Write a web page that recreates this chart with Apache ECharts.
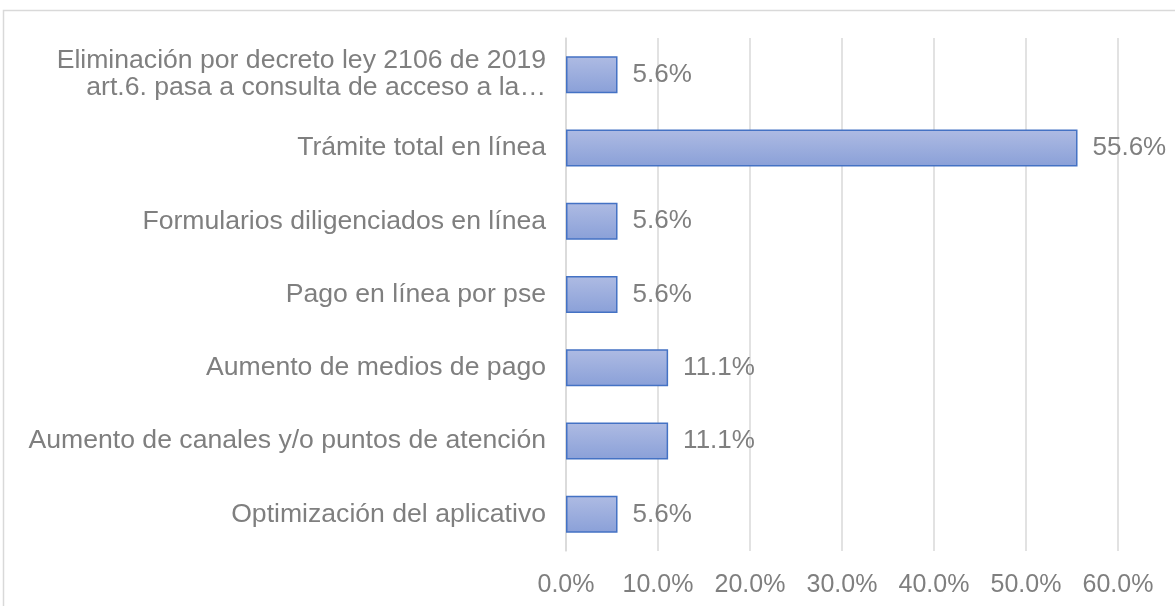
<!DOCTYPE html>
<html>
<head>
<meta charset="utf-8">
<script src="https://cdn.jsdelivr.net/npm/echarts@6/dist/echarts.min.js"></script>
<style>
  html, body { margin: 0; padding: 0; background: #fff; }
  #chart { width: 1175px; height: 606px; }
</style>
</head>
<body>
<div id="chart"></div>
<script>
// Categories listed top to bottom
const categories = [
  'Eliminación por decreto ley 2106 de 2019\nart.6. pasa a consulta de acceso a la…',
  'Trámite total en línea',
  'Formularios diligenciados en línea',
  'Pago en línea por pse',
  'Aumento de medios de pago',
  'Aumento de canales y/o puntos de atención',
  'Optimización del aplicativo'
];
// Share of responses, percent
const values = [5.6, 55.6, 5.6, 5.6, 11.1, 11.1, 5.6];
// Value axis ticks
const axisTicks = [0, 10, 20, 30, 40, 50, 60];

const chart = echarts.init(document.getElementById('chart'), null, { renderer: 'canvas' });

const textColor = '#7f7f7f';
const font = 'Liberation Sans, Arial, sans-serif';

chart.setOption({
  animation: false,
  backgroundColor: '#ffffff',
  graphic: [{
    type: 'rect',
    shape: { x: 3.5, y: 10.5, width: 1300, height: 800 },
    style: { fill: 'none', stroke: '#d9d9d9', lineWidth: 1.5 },
    silent: true,
    z: -1
  }],
  grid: { left: 566, right: 57, top: 38, bottom: 55, containLabel: false },
  xAxis: {
    type: 'value',
    min: axisTicks[0],
    max: axisTicks[axisTicks.length - 1],
    interval: axisTicks[1] - axisTicks[0],
    axisLine: { show: false },
    axisTick: { show: false },
    splitLine: { show: true, lineStyle: { color: '#d9d9d9', width: 1.5 } },
    axisLabel: {
      color: textColor,
      fontFamily: font,
      fontSize: 25,
      margin: 22,
      formatter: v => v.toFixed(1) + '%'
    }
  },
  yAxis: {
    type: 'category',
    inverse: true,
    data: categories,
    axisLine: { show: true, lineStyle: { color: '#d9d9d9', width: 1.5 } },
    axisTick: { show: false },
    axisLabel: {
      color: textColor,
      fontFamily: font,
      fontSize: 26.6,
      margin: 20,
      lineHeight: 27,
      align: 'right',
      padding: [5, 0, 0, 0]
    }
  },
  series: [{
    type: 'bar',
    data: values,
    barWidth: 37,
    itemStyle: {
      color: new echarts.graphic.LinearGradient(0, 0, 0, 1, [
        { offset: 0, color: '#aebbe3' },
        { offset: 1, color: '#8aa0d8' }
      ]),
      borderColor: '#4472c4',
      borderWidth: 1.5
    },
    label: {
      show: true,
      position: 'right',
      distance: 15,
      color: textColor,
      fontFamily: font,
      fontSize: 26,
      formatter: p => p.value.toFixed(1) + '%'
    }
  }]
});
</script>
</body>
</html>
